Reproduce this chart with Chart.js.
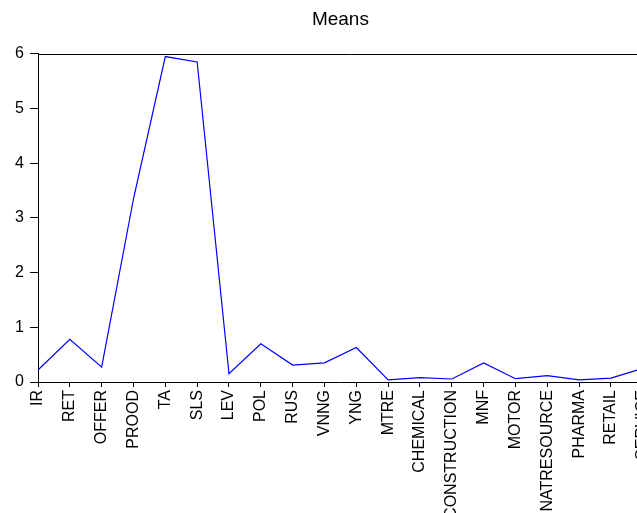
<!DOCTYPE html>
<html>
<head>
<meta charset="utf-8">
<script src="https://cdn.jsdelivr.net/npm/chart.js@4.4.0/dist/chart.umd.min.js"></script>
<style>
  html, body { margin: 0; padding: 0; background: #fff; overflow: hidden; }
</style>
</head>
<body>
<canvas id="chart" width="665" height="513"></canvas>
<script>
'use strict';

var labels = ['IR', 'RET', 'OFFER', 'PROOD', 'TA', 'SLS', 'LEV', 'POL', 'RUS', 'VNNG',
  'YNG', 'MTRE', 'CHEMICAL', 'CONSTRUCTION', 'MNF', 'MOTOR', 'NATRESOURCE', 'PHARMA',
  'RETAIL', 'SERVICE'];
var means = [0.22, 0.78, 0.27, 3.35, 5.95, 5.85, 0.15, 0.70, 0.31, 0.35,
  0.63, 0.04, 0.08, 0.055, 0.35, 0.06, 0.115, 0.04, 0.07, 0.25];
var yTicks = [0, 1, 2, 3, 4, 5, 6];

// top frame line (the reference has a closed box on top)
var topLine = {
  id: 'topLine',
  afterDraw: function (chart) {
    var c = chart.ctx;
    var a = chart.chartArea;
    var y = Math.round(a.top) + 0.5;
    c.save();
    c.strokeStyle = '#000';
    c.lineWidth = 1;
    c.beginPath();
    c.moveTo(a.left, y);
    c.lineTo(a.right + 20, y);
    c.stroke();
    c.restore();
  }
};

var ctx = document.getElementById('chart').getContext('2d');

var chart = new Chart(ctx, {
  type: 'line',
  data: {
    labels: labels,
    datasets: [{
      label: 'Means',
      data: means,
      borderColor: '#0000ff',
      borderWidth: 1.2,
      pointRadius: 0,
      tension: 0,
      fill: false
    }]
  },
  options: {
    responsive: false,
    animation: false,
    layout: { padding: { left: 0, right: 11, top: 0, bottom: 0 } },
    plugins: {
      legend: { display: false },
      tooltip: { enabled: false },
      title: {
        display: true,
        text: 'Means',
        fullSize: false,
        color: '#000',
        font: { family: 'Liberation Sans, Arial, sans-serif', size: 19, weight: 'normal' },
        padding: { top: 8, bottom: 23 }
      }
    },
    scales: {
      x: {
        offset: false,
        grid: { display: true, drawOnChartArea: false, drawTicks: true, tickLength: 5, color: '#000' },
        border: { display: true, color: '#000', width: 1 },
        ticks: {
          autoSkip: false,
          minRotation: 90,
          maxRotation: 90,
          padding: 3,
          color: '#000',
          font: { family: 'Liberation Sans Narrow, Liberation Sans, Arial, sans-serif', size: 16 }
        },
        afterFit: function (scale) { scale.height = 131; }
      },
      y: {
        min: 0,
        max: 6,
        afterBuildTicks: function (scale) {
          scale.ticks = yTicks.map(function (v) { return { value: v }; });
        },
        grid: { display: true, drawOnChartArea: false, drawTicks: true, tickLength: 8, color: '#000' },
        border: { display: true, color: '#000', width: 1 },
        ticks: {
          padding: 6,
          color: '#000',
          font: { family: 'Liberation Sans, Arial, sans-serif', size: 16 }
        },
        afterFit: function (scale) { scale.width = 38; }
      }
    }
  },
  plugins: [topLine]
});
</script>
</body>
</html>
